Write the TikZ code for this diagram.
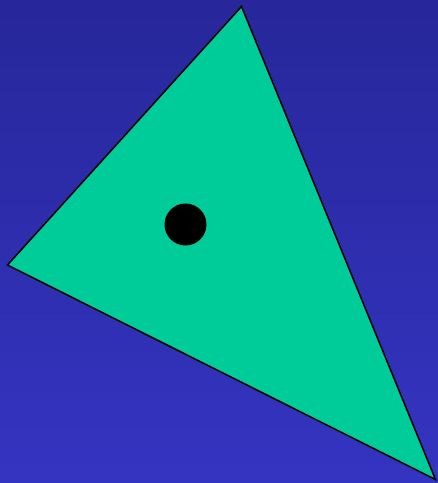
\documentclass[tikz,border=0pt]{standalone}
\usepackage{xcolor}
\usepackage{tikz}
\definecolor{SkyTop}{HTML}{27279A}
\definecolor{SkyBottom}{HTML}{3434C2}
\definecolor{Mint}{HTML}{00CC99}

\begin{document}
\begin{tikzpicture}[x=1pt, y=-1pt, line join=miter]
\tikzset{tri/.style={draw=black, line width=1.5pt, fill=Mint}, dot/.style={circle, fill=black, inner sep=0pt, minimum size=42pt}}
\shade[top color=SkyTop, bottom color=SkyBottom] (0,0) rectangle (438,483);
\useasboundingbox (0,0) rectangle (438,483);
\coordinate (apex) at (241.5,6.5);
\coordinate (west) at (7.5,265);
\coordinate (corner) at (435.5,479.5);
\draw[tri] (apex) -- (west) -- (corner) -- cycle;
\node[dot] (point) at (185.5,224.5) {};
\end{tikzpicture}
\end{document}
